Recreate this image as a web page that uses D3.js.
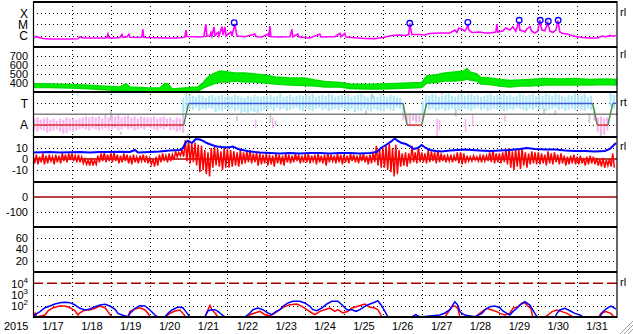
<!DOCTYPE html>
<html>
<head>
<meta charset="utf-8">
<script src="https://cdn.jsdelivr.net/npm/d3@7"></script>
<style>
  body { margin: 0; background: #fff; }
  svg { display: block; }
  text { font-family: "Liberation Sans", Arial, sans-serif; font-size: 11px; fill: #000; }
</style>
</head>
<body>
<svg id="chart" width="633" height="334"></svg>
<script>
// ---- data (hours since 2015-01-17 00:00 UT) ----

// x-ray flux, in units of 1e-6 W/m2 (C = 1, M = 10, X = 100)
var xrayFlux = [[0,0.59],[1.8,0.86],[3.6,0.70],[6.1,0.57],[10.4,0.51],[16.6,0.51],[22.8,0.51],[27.7,0.54],[28.9,0.82],[30.8,0.63],[38.3,0.63],[44.4,0.63],[45.6,0.70],[46.2,1.43],[46.9,0.63],[50.6,0.63],[53.6,0.70],[54.9,1.35],[55.5,0.70],[57.9,0.77],[59.2,1.35],[59.8,0.73],[65.9,0.70],[67.2,0.77],[67.8,3.7],[68.4,0.70],[75.3,0.67],[81.4,0.63],[87.6,0.63],[92.5,0.70],[93.7,0.77],[94.4,3.2],[95,0.86],[99.9,0.82],[103,0.77],[105.5,0.86],[106.7,11.1],[107.3,0.95],[109.2,0.95],[109.8,1.87],[110.4,0.95],[111.7,6.0],[112.3,1.05],[114.2,2.0],[114.8,0.95],[116.6,6.4],[117.3,1.17],[118.5,6.0],[119.1,0.95],[122.2,2.15],[122.8,0.95],[124.6,11.1],[125.9,0.95],[130.8,0.82],[137,1.43],[137.6,0.82],[141.3,0.77],[145,1.43],[145.6,0.82],[146.2,7.4],[146.9,0.82],[152.4,0.77],[158.6,0.82],[159.8,3.7],[160.4,0.77],[163.5,1.43],[164.1,0.77],[167.8,0.70],[170.9,0.63],[177.1,1.43],[177.7,0.77],[183.3,0.82],[186.4,0.82],[189.5,1.65],[190.1,0.82],[192.5,1.65],[193.2,0.77],[198.7,0.66],[204.9,0.57],[211,0.55],[216,0.70],[221.5,1.05],[226.4,1.17],[229.5,1.05],[232,1.29],[232.6,12.8],[233.9,1.29],[238.8,1.29],[241.9,1.17],[245,1.58],[251.2,1.75],[257.4,1.75],[260.5,3.2],[261.7,1.95],[262.9,4.6],[264.8,4.0],[266.6,2.6],[267.9,4.9],[268.5,11.1],[269.1,3.2],[271,1.95],[275.9,2.15],[279,1.75],[282.1,1.75],[285.8,2.15],[286.4,11.1],[287,2.15],[290.1,2.6],[292,4.9],[294.4,3.2],[296.3,6.4],[298.1,2.6],[300,17.7],[300.6,3.2],[302.5,2.6],[303.7,2.15],[304.9,4.0],[306.8,6.4],[308,2.6],[309.9,1.75],[311.7,2.6],[313,25],[314.2,3.2],[316.1,2.8],[317.9,14.5],[319.1,2.6],[321,2.0],[322.9,3.2],[324.1,21.8],[325.3,2.15],[326.6,1.65],[329.7,1.43],[332.8,1.05],[335.8,0.82],[338.9,0.70],[343.9,0.63],[348.8,0.63],[351.3,0.95],[353.7,0.81],[356.2,1.05],[358.7,0.95],[360,1.05]];
var flarePeaks = [[124.2,14.5],[232.6,12.8],[268.5,15.6],[300.2,23.6],[313.2,23.6],[318.2,19.2],[324.3,23.6]];

// solar wind speed band [hour, low, high] km/s
var windSpeed = [[0,350,394],[10.4,350,389],[22.8,344,383],[32,339,378],[41.3,328,367],[47.5,322,361],[53.6,317,356],[57.3,317,389],[59.8,311,356],[65.9,306,350],[72.2,300,344],[78.3,300,344],[81.4,311,394],[83.3,300,389],[85.8,300,333],[93.7,300,344],[101.8,311,356],[104.9,344,400],[108,367,467],[111.1,389,500],[115.4,411,533],[120.3,411,522],[124.6,422,511],[130.8,411,511],[137,411,500],[143.2,400,489],[149.4,389,467],[158.6,378,456],[167.8,372,456],[174,367,433],[180.2,356,417],[189.5,356,406],[195.6,339,389],[204.9,333,383],[214.2,333,389],[223.4,339,394],[232.6,344,400],[240,350,406],[243.2,400,478],[248.1,406,489],[254.3,422,511],[260.5,422,522],[266,433,533],[267.9,444,561],[269.7,433,522],[274,422,500],[276.5,389,461],[282.1,383,456],[288.3,367,439],[294.4,356,428],[300.6,367,433],[306.8,367,439],[316.1,378,450],[325.3,378,444],[334.6,378,450],[343.9,378,439],[353.1,383,444],[360,378,439]];

// IMF direction, 2-hour bins: low / high of the samples (+ toward, - away)
var imfLo = [
  -1.5,-1.6,-1.4,-1.5,-1.7,-1.6,-1.5,-1.4,-1.6,-1.8,-1.7,-1.5,
  -1.6,-1.5,-1.4,-1.3,-1.4,-1.5,-1.3,-1.4,-1.5,-1.4,-1.3,-1.4,
  -1.4,-1.3,-1.5,-1.4,-1.2,-1.4,-1.3,-1.5,-1.4,-1.3,-1.4,-1.2,
  -1.3,-1.4,-1.5,-1.3,-1.4,-1.2,-1.5,-1.4,-1.6,-1.5,-1.7,0.4,
  0.5,0.4,0.6,0.3,0.5,0.4,0.6,0.5,0.2,0.4,0.3,0.5,
  0.4,0.5,0.3,0.4,0.1,0.2,0.1,0.3,0.2,0.1,0.3,0.4,
  0.4,0.5,0.3,0.6,0.4,0.5,0.3,0.4,0.5,0.6,0.4,0.3,
  0.5,0.4,0.3,0.5,0.6,0.4,0.5,0.3,0.4,0.5,0.4,0.6,
  0.4,0.3,0.5,0.2,0.4,0.3,0.5,0.4,0.3,0.5,0.4,0.3,
  0.3,0.5,0.4,0.3,0.6,0.5,-0.5,-0.7,-0.9,-0.6,-0.8,-0.7,
  -0.6,0.6,0.4,0.5,0.3,0.4,0.5,0.3,0.4,0.5,0.4,0.3,
  0.4,0.5,0.4,0.3,0.5,0.6,0.4,0.5,0.3,0.4,0.5,0.4,
  0.5,0.3,0.4,0.5,0.4,0.6,0.5,0.4,0.3,0.5,0.4,0.6,
  0.4,0.5,0.3,0.4,0.5,0.6,0.4,0.5,0.3,0.4,0.5,0.4,
  0.5,0.4,0.3,0.5,0.4,-0.6,-1.6,-1.8,-1.9,-1.5,0.7,0.5
];
var imfHi = [
  -0.4,-0.3,-0.5,-0.4,-0.3,-0.5,-0.4,-0.6,-0.4,-0.5,-0.3,-0.4,
  -0.4,-0.5,-0.4,-0.3,-0.2,-0.3,-0.2,-0.3,-0.2,-0.4,-0.1,-0.3,
  -0.1,-0.2,-0.1,-0.3,-0.2,-0.1,-0.3,-0.2,-0.4,-0.2,-0.3,-0.3,
  -0.3,-0.2,-0.4,-0.3,-0.2,-0.4,-0.3,-0.5,-0.3,-0.4,1.5,1.8,
  1.8,1.7,1.6,1.8,1.7,1.5,1.7,1.8,1.6,1.7,1.8,1.6,
  1.7,1.6,1.8,1.7,1.6,1.5,1.7,1.6,1.8,1.7,1.6,1.7,
  1.7,1.8,1.6,1.7,1.9,1.6,1.7,1.8,1.6,1.7,1.8,1.7,
  1.8,1.7,1.9,1.6,1.7,1.8,1.7,1.9,1.8,1.6,1.7,1.8,
  1.7,1.8,1.6,1.7,1.8,1.9,1.7,1.6,1.8,1.7,1.6,1.8,
  1.7,1.6,1.8,1.7,1.6,1.5,0.8,-0.1,-0.2,0.0,-0.2,-0.1,
  1.2,1.8,1.7,1.9,1.8,1.6,1.7,1.8,1.9,1.7,1.6,1.8,
  1.9,1.7,1.8,1.9,1.7,1.8,1.6,1.7,1.8,1.9,1.7,1.8,
  1.8,1.9,1.7,1.8,1.6,1.7,1.9,1.8,1.7,1.8,1.9,1.7,
  1.8,1.7,1.9,1.8,1.7,1.9,1.8,1.7,1.6,1.8,1.7,1.9,
  1.8,1.7,1.9,1.6,1.7,0.6,-0.3,-0.2,-0.4,-0.3,2.0,1.8
];
var imfExtra = [[27,1.6,2.0],[47,1.8,2.0],[137,-1.3,-0.5],[147.5,-1.3,-0.3],[249,-2.1,-0.4],[250.5,-1.5,-0.5],[266.6,-1.6,-0.4],[271,-1.1,-0.1],[291,-0.7,-0.1]];
var imfGray = [[47.5,-0.6,0.3],[53.6,-1.9,-1.6],[94,1.8,2.05],[95,-2.1,-1.8],[125.3,-0.6,-0.2],[146,-0.8,0.1],[149.3,-1.0,-0.6],[205,0.0,0.4],[209,1.4,1.9],[232,-0.5,0.1],[236,-0.6,0.0],[252,1.8,2.05],[260.5,-0.2,0.4],[315,0.0,0.5],[322,-0.1,0.4],[343,-0.8,0.1],[350,-2.0,-1.6]];
var sectorHours = [0, 93, 96, 228.5, 231, 240, 243, 345.5, 348.5, 355, 358, 360];
var sectorSign  = [-1, -1, 1, 1, -1, -1, 1, 1, -1, -1, 1, 1];

// Bz, 2-hour bins: low / high (nT)
var bzLo = [
  -4,-5,-3,-5,-4,-2,-5,-3,-4,-2,-3,-1,
  -2,-3,-3,-4,-5,-6,-6,-5,-3,-2,-3,-2,
  -3,-2,-4,-3,-2,-4,-5,-3,-4,-2,-3,-4,
  -5,-7,-6,-3,-2,-3,-2,-1,2,3,2,-2,
  -4,-3,-6,-12,-10,-14,-16,-8,-6,-7,-10,-8,
  -8,-7,-6,-7,-5,-4,-3,-4,-3,-6,-5,-4,
  -6,-5,-7,-4,-5,-6,-3,-4,-3,-2,-4,-3,
  -3,-4,-2,-5,-3,-4,-6,-3,-2,-4,-3,-5,
  -3,-4,-2,-3,-4,-2,-3,-5,-4,-3,-6,-8,
  -8,-10,-12,-16,-14,-7,-6,-7,-4,-3,-4,-3,
  -3,-4,-3,-2,-4,-3,-2,-3,-2,-3,-2,-4,
  -5,-4,-2,-2,-1,-2,-3,-2,-2,-3,-4,-3,
  -4,-3,-5,-8,-10,-7,-9,-6,-8,-5,-4,-5,
  -5,-4,-6,-4,-5,-3,-5,-4,-6,-5,-4,-5,
  -5,-4,-6,-5,-4,-5,-6,-7,-8,-6,-7,-8
];
var bzHi = [
  3,4,2,5,3,4,2,4,3,5,4,5,
  5,3,4,2,0,-1,1,-1,3,5,6,4,
  5,6,4,3,5,4,3,4,2,3,4,3,
  1,0,2,4,5,3,5,4,7,6,8,17,
  17,14,15,13,12,8,6,10,11,9,7,10,
  9,8,7,6,8,6,7,8,5,6,5,4,
  5,4,3,5,4,3,5,4,3,5,4,3,
  4,5,3,4,5,3,4,5,4,3,5,4,
  4,3,5,4,3,4,5,3,4,6,12,9,
  10,12,14,10,13,8,5,6,5,12,6,11,
  6,5,8,7,6,8,5,4,3,4,3,6,
  6,5,3,2,3,2,3,4,3,6,8,5,
  5,6,8,10,7,9,8,10,6,5,7,6,
  6,5,4,7,5,6,4,5,3,2,3,4,
  2,3,1,2,3,2,1,0,1,-1,0,5
];
// Bt (nT)
var btField = [[0,5.9],[10.4,6.4],[16.6,5.9],[28.9,6.4],[35.1,5.9],[41.3,6.4],[47.5,6.4],[53.6,6.6],[59.8,6.4],[62.9,8.2],[64.8,5.9],[72.2,6.4],[78.3,6.8],[84.5,7.7],[90.7,8.2],[92.5,10],[94.4,15.5],[95.6,16.4],[98.1,14.5],[100.5,18.2],[103,17.7],[104.9,16.4],[107.3,14.5],[110.4,12.7],[113.5,11.4],[116.6,10.9],[120.3,10.5],[123.4,11.4],[126.5,9.1],[130.8,7.7],[133.9,6.8],[140.1,5.9],[146.2,5.5],[152.4,5],[158.6,5.5],[164.7,5],[170.9,5.5],[177.1,5.5],[183.3,5],[189.5,5.5],[195.6,5.5],[201.8,5],[208,5.5],[212.3,6.4],[214.8,10],[217.9,12.7],[221.5,16.4],[223.4,18.6],[225.3,16.4],[227.7,14.5],[230.2,13.6],[232.6,11.8],[235.1,9.1],[237.6,10],[240,12.7],[242.5,10],[245,8.2],[248.7,7.3],[252.4,6.8],[257.4,7.7],[262.3,8.2],[266.6,8.6],[271,8.2],[275.9,7.7],[282.1,7.3],[288.3,7.7],[294.4,8.2],[300.6,9.1],[304.9,10],[309.9,9.1],[316.1,8.6],[322.3,8.6],[328.5,7.7],[334.6,7.3],[340.8,7.3],[347,6.8],[353.1,7.3],[356.2,9.1],[358.7,12.7],[360,14.5]];

// bottom panel fluxes
var bottomBlue = [[0,10.6],[2.4,21],[4.3,30],[7.3,67],[10.4,95],[13.5,143],[16.6,187],[19.7,203],[22.8,187],[25.9,116],[28.9,59],[32,42],[35.1,51],[38.2,82],[41.3,116],[44.4,135],[47.5,95],[50.6,48],[52.4,21],[54.9,15],[58.6,10.6],[59.8,21],[62.9,59],[66,101],[69.1,95],[72.2,42],[75.2,15],[77.1,10],[81.4,10],[83.3,21],[85.8,42],[89.5,77],[92.5,67],[94.4,30],[96.8,10],[106.1,10],[108,36],[110.4,44.5],[112.3,44.5],[114.2,32],[116.6,16],[118.5,10],[130.8,10],[133.9,22.7],[135.8,44.5],[138.9,63],[141.9,44.5],[145,22.7],[147.5,16],[150,32],[152.4,44.5],[154.3,89],[157.4,176],[160.4,249],[164.7,249],[167.8,176],[170.9,89],[172.8,44.5],[175.2,36],[178.3,63],[181.4,143],[184.5,249],[188.2,249],[190.7,124],[193.8,44.5],[196.9,44.5],[199.4,32],[201.8,44.5],[204.9,89],[208,143],[211,203],[212.9,281],[214.8,124],[217.3,32],[219.2,10],[233.9,10],[236.4,16],[238.8,10],[251.2,15],[254.4,22.7],[257.4,44.5],[260.5,229],[262.3,116],[263.6,30],[264.8,21],[266.6,15],[272.8,10.6],[277.2,21],[279,42],[282.1,82],[285.2,95],[288.3,67],[290.1,34],[292.6,21],[294.4,15],[296.3,30],[298.8,59],[300.6,116],[303.7,229],[306.8,116],[308.6,42],[310.5,15],[311.7,10],[322.3,10],[323.5,21],[325.3,42],[328.5,59],[331.5,36],[334.6,21],[337.7,15],[339.6,10],[350,10],[351.9,30],[354.4,59],[356.8,95],[359.3,59],[360,50]];
var bottomRed = [[0,10],[1.2,22],[2.4,10],[7.3,15],[9.3,36],[12.3,67],[16.6,95],[19.7,95],[22.8,67],[25.9,36],[27.7,15],[28.9,24],[32,42],[35.1,42],[38.2,59],[41.3,95],[44.4,67],[46.2,30],[48.7,10],[58.6,10],[59.8,30],[62.9,51],[66,67],[69.1,42],[71,21],[72.2,10],[81.4,10],[84.5,21],[87.6,34],[90.7,42],[92.5,21],[94.4,10],[106.1,10],[108,44.5],[109.2,110],[110.4,44.5],[112.3,22.7],[114.2,10],[132.7,10],[133.9,16],[137,22.7],[140.1,32],[143.2,16],[146.2,13],[149.4,22.7],[152.4,44.5],[155.5,89],[158.6,124],[162.9,143],[166,89],[169.1,44.5],[172.2,22.7],[174.1,16],[177.1,32],[180.2,44.5],[183.3,63],[186.4,32],[188.2,44.5],[191.3,22.7],[194.4,32],[196.9,63],[200.6,89],[204.9,143],[208,72],[211,63],[212.9,44.5],[214.2,22.7],[215.4,10],[254.4,10],[257.4,44.5],[258.6,82],[260.5,95],[262.3,59],[263.6,10],[274,10],[274.6,15],[277.2,30],[280.2,59],[283.3,42],[286.4,30],[288.3,21],[291.4,15],[294.4,21],[296.3,59],[299.4,82],[301.9,165],[303.7,187],[305.5,95],[307.4,59],[308.6,10],[316.1,10],[318,15],[320.5,30],[323.5,42],[326.6,30],[329.7,21],[331.5,15],[333.4,10],[349.4,10],[350.6,21],[353.7,30],[356.8,21],[358.7,10.6],[360,10]];

// tick labels
var xrayTicks = [100, 10, 1], xrayLabels = ['X', 'M', 'C'];
var speedTicks = [700, 600, 500, 400];
var sectorTicks = [1, -1], sectorLabels = ['T', 'A'];
var bzTicks = [10, 0, -10];
var p5Ticks = [0, -100];
var p6Ticks = [60, 40, 20];
var p7Ticks = [1e4, 1e3, 1e2], p7Exps = ['4', '3', '2'];
var rightLabels = ['rl', 'rl', 'rt', 'rl', '', '', 'rl'];

// ---- layout ----
var hour = 36e5;
var t0 = Date.UTC(2015, 0, 17);
var x = d3.scaleUtc()
  .domain([new Date(t0), new Date(t0 + 360 * hour)])
  .range([33.1, 616]);
function xh(h) { return x(new Date(t0 + h * hour)); }

var tops = [2, 47, 92, 137, 182, 227, 272, 317];
var ys = [
  d3.scaleLog().domain([0.1, 1000]),
  d3.scaleLinear().domain([300, 800]),
  d3.scaleLinear().domain([-2.1, 2.05]),
  d3.scaleLinear().domain([-21, 20]),
  d3.scaleLinear().domain([-200, 100]),
  d3.scaleLinear().domain([0, 80]),
  d3.scaleLog().domain([10, 1e5])
];
ys.forEach(function(s, i) { s.range([tops[i + 1], tops[i]]); });

var svg = d3.select('#chart');
var defs = svg.append('defs');

// vertical day grid
var days = d3.utcDay.range(new Date(t0 + 24 * hour), new Date(t0 + 360 * hour));
svg.append('g').selectAll('line').data(days).enter().append('line')
  .attr('x1', d => Math.round(x(d)) + 0.5).attr('x2', d => Math.round(x(d)) + 0.5)
  .attr('y1', 2).attr('y2', 317)
  .attr('stroke', '#000').attr('stroke-dasharray', '1,3');

var plots = ys.map(function(s, i) {
  defs.append('clipPath').attr('id', 'clip' + i).append('rect')
    .attr('x', 33).attr('y', tops[i]).attr('width', 584).attr('height', tops[i + 1] - tops[i]);
  return svg.append('g').attr('clip-path', 'url(#clip' + i + ')');
});

function hline(g, y, color, width, dash) {
  g.append('line').attr('x1', 33).attr('x2', 617).attr('y1', y).attr('y2', y)
    .attr('stroke', color).attr('stroke-width', width || 1)
    .attr('stroke-dasharray', dash || null);
}
function dotted(i, vals) {
  vals.forEach(v => hline(plots[i], Math.round(ys[i](v)) + 0.5, '#000', 1, '1,3'));
}
function leftLabel(y, txt) {
  return svg.append('text').attr('x', 28).attr('y', y).attr('dy', '0.36em')
    .attr('text-anchor', 'end').text(txt);
}

// horizontal grids
dotted(0, xrayTicks);
dotted(1, speedTicks);
dotted(2, sectorTicks);
dotted(3, [10, -10]);
hline(plots[3], ys[3](0), '#a00000', 1.5);
dotted(4, [-100]);
hline(plots[4], ys[4](0), '#a00000', 1.5);
dotted(5, p6Ticks);
dotted(6, [1e3, 1e2]);
hline(plots[6], ys[6](1e4), '#a00000', 1.5, '10,4');

// panel 1: x-ray
plots[0].append('path').datum(xrayFlux)
  .attr('fill', 'none').attr('stroke', '#ff00ff').attr('stroke-width', 1.6)
  .attr('d', d3.line().x(d => xh(d[0])).y(d => ys[0](d[1])));
plots[0].selectAll('circle').data(flarePeaks).enter().append('circle')
  .attr('cx', d => xh(d[0])).attr('cy', d => ys[0](d[1]))
  .attr('r', 2.8).attr('fill', 'none').attr('stroke', '#0000ff').attr('stroke-width', 1.3);

// panel 2: wind speed band
plots[1].append('path').datum(windSpeed)
  .attr('fill', '#00ee00').attr('stroke', '#00dd00').attr('stroke-width', 1.5)
  .attr('d', d3.area().x(d => xh(d[0])).y0(d => ys[1](d[1])).y1(d => ys[1](d[2])));

// panel 3: IMF sector
function imfBar(h, lo, hi, w) {
  var y = ys[2];
  if (hi > 0) {
    plots[2].append('rect').attr('x', xh(h)).attr('width', w)
      .attr('y', y(hi)).attr('height', y(Math.max(lo, 0)) - y(hi)).attr('fill', '#b0e8f8');
  }
  if (lo < 0) {
    plots[2].append('rect').attr('x', xh(h)).attr('width', w)
      .attr('y', y(Math.min(hi, 0))).attr('height', y(lo) - y(Math.min(hi, 0))).attr('fill', '#f8b4f0');
  }
}
imfLo.forEach((lo, i) => imfBar(i * 2, lo, imfHi[i], 2.2));
imfExtra.forEach(d => imfBar(d[0], d[1], d[2], 1.6));
plots[2].selectAll('rect.gray').data(imfGray).enter().append('rect').attr('class', 'gray')
  .attr('x', d => xh(d[0])).attr('width', 1.8)
  .attr('y', d => ys[2](d[2])).attr('height', d => ys[2](d[1]) - ys[2](d[2]))
  .attr('fill', '#c8c8c8');
hline(plots[2], ys[2](0), '#808080', 1.5);
sectorHours.slice(1).forEach(function(h, k) {
  var a = sectorSign[k], b = sectorSign[k + 1];
  var color = a !== b ? '#4f8a4f' : (a > 0 ? '#3a5ae0' : '#e03030');
  plots[2].append('line')
    .attr('x1', xh(sectorHours[k])).attr('x2', xh(h))
    .attr('y1', ys[2](a)).attr('y2', ys[2](b))
    .attr('stroke', color).attr('stroke-width', 1.5);
});

// panel 4: Bz and Bt
var bzPts = [];
bzLo.forEach(function(lo, i) { bzPts.push([i * 2, bzHi[i]], [i * 2 + 1, lo]); });
plots[3].append('path').datum(bzPts)
  .attr('fill', 'none').attr('stroke', '#ff0000').attr('stroke-width', 1.5)
  .attr('d', d3.line().x(d => xh(d[0])).y(d => ys[3](d[1])));
plots[3].append('path').datum(btField)
  .attr('fill', 'none').attr('stroke', '#0000ff').attr('stroke-width', 2)
  .attr('d', d3.line().x(d => xh(d[0])).y(d => ys[3](d[1])));

// panel 7: fluxes
var fluxLine = d3.line().x(d => xh(d[0])).y(d => ys[6](Math.max(d[1], 10)));
plots[6].append('path').datum(bottomRed)
  .attr('fill', 'none').attr('stroke', '#ff0000').attr('stroke-width', 1.5).attr('d', fluxLine);
plots[6].append('path').datum(bottomBlue)
  .attr('fill', 'none').attr('stroke', '#0000ff').attr('stroke-width', 1.5).attr('d', fluxLine);

// frames
tops.forEach(t => hline(svg, t, '#000', 2));
svg.append('line').attr('x1', 33.5).attr('x2', 33.5).attr('y1', 1).attr('y2', 318).attr('stroke', '#000').attr('stroke-width', 1.2);
svg.append('line').attr('x1', 617).attr('x2', 617).attr('y1', 1).attr('y2', 318).attr('stroke', '#000').attr('stroke-width', 1.2);

// left labels
xrayTicks.forEach((v, k) => leftLabel(ys[0](v), xrayLabels[k]).style('font-size', '12px'));
speedTicks.forEach(v => leftLabel(ys[1](v), v));
sectorTicks.forEach((v, k) => leftLabel(ys[2](v), sectorLabels[k]).style('font-size', '12px'));
bzTicks.forEach(v => leftLabel(ys[3](v), v));
p5Ticks.forEach(v => leftLabel(ys[4](v), v));
p6Ticks.forEach(v => leftLabel(ys[5](v), v));
p7Ticks.forEach(function(v, k) {
  var t = svg.append('text').attr('x', 28).attr('y', ys[6](v)).attr('dy', '0.4em').attr('text-anchor', 'end');
  t.append('tspan').text('10');
  t.append('tspan').attr('dy', -5).style('font-size', '8px').text(p7Exps[k]);
});

// right labels
rightLabels.forEach(function(txt, i) {
  if (!txt) return;
  var first = [xrayTicks[0], speedTicks[0], sectorTicks[0], bzTicks[0], 0, 0, p7Ticks[0]][i];
  svg.append('text').attr('x', 620).attr('y', ys[i](first) - 1.5).attr('dy', '0.36em')
    .style('font-size', '11px').text(txt);
});

// time axis
var noons = d3.utcDay.range(new Date(t0), new Date(t0 + 360 * hour)).map(d => d3.utcHour.offset(d, 12));
var axis = svg.append('g').attr('transform', 'translate(0,317)')
  .call(d3.axisBottom(x).tickValues(noons).tickFormat(d3.utcFormat('%-m/%-d')).tickSize(0).tickPadding(5));
axis.select('.domain').remove();
axis.selectAll('text').attr('font-family', null).attr('font-size', null).style('font-size', '11px');
svg.append('text').attr('x', 4).attr('y', 330).text('2015');

// resize grip
[0, 4, 8].forEach(function(o) {
  svg.append('line').attr('x1', 633).attr('y1', 321 + o).attr('x2', 620 + o).attr('y2', 334)
    .attr('stroke', '#a0a0a0').attr('stroke-width', 1);
});
</script>
</body>
</html>
